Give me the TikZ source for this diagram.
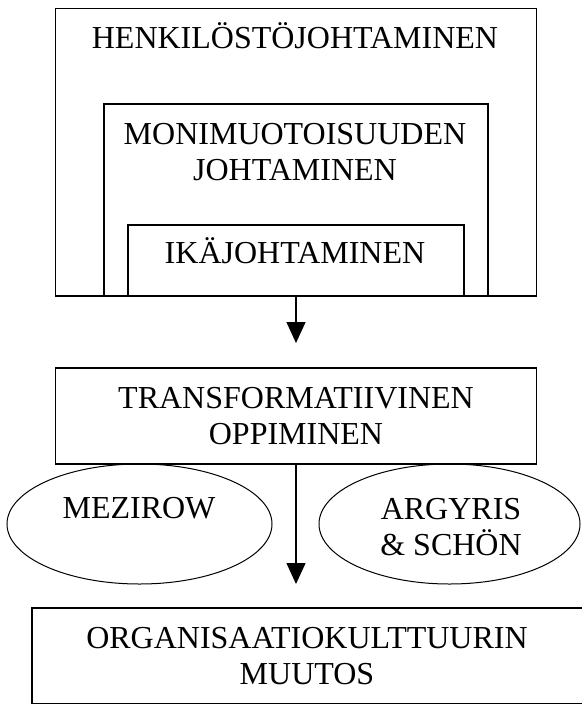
\documentclass[tikz,border=0pt]{standalone}
\usepackage{fontspec}
\setmainfont{Liberation Serif}
\usetikzlibrary{shapes.geometric,arrows.meta}

\begin{document}
\begin{tikzpicture}[
  x=1pt, y=-1pt,
  every node/.style={inner sep=0pt, outer sep=0pt},
  box/.style={draw, line width=1.4pt, rectangle},
  oval/.style={draw, line width=1pt, ellipse},
  lbl/.style={anchor=base, align=center, font=\fontsize{32}{36}\selectfont},
  flow/.style={line width=1.3pt, -{Triangle[width=19pt,length=21pt]}}
]
\useasboundingbox (0,0) rectangle (581,704);

% nested boxes
\node[box, minimum width=480.8pt, minimum height=287.7pt] (henk) at (296,152.2) {};
\node[box, minimum width=384pt, minimum height=192pt] (moni) at (296,200) {};
\node[box, minimum width=336pt, minimum height=71pt] (ika) at (296,260.5) {};
\node[lbl] (henkt) at (295,48) {HENKILÖSTÖJOHTAMINEN};
\node[lbl] (monit) at (295,180) {MONIMUOTOISUUDEN\\JOHTAMINEN};
\node[lbl] (ikat) at (295,263) {IKÄJOHTAMINEN};

% learning
\node[box, minimum width=480.8pt, minimum height=96pt] (trans) at (296,416) {};
\node[lbl] (transt) at (296,444) {TRANSFORMATIIVINEN\\OPPIMINEN};
\node[oval, minimum width=265pt, minimum height=120pt] (mez) at (139.5,524) {};
\node[oval, minimum width=261pt, minimum height=120pt] (arg) at (449.5,524) {};
\node[lbl] (mezt) at (139,518) {MEZIROW};
\node[lbl] (argt) at (451,555) {ARGYRIS\\\& SCHÖN};

% result
\node[box, minimum width=554pt, minimum height=96pt] (org) at (309,656) {};
\node[lbl] (orgt) at (307,684) {ORGANISAATIOKULTTUURIN\\MUUTOS};

\draw[flow, shorten >=25pt] (henk.south) -- (trans.north);
\draw[flow, shorten >=24pt] (trans.south) -- (trans.south |- org.north);
\end{tikzpicture}
\end{document}
